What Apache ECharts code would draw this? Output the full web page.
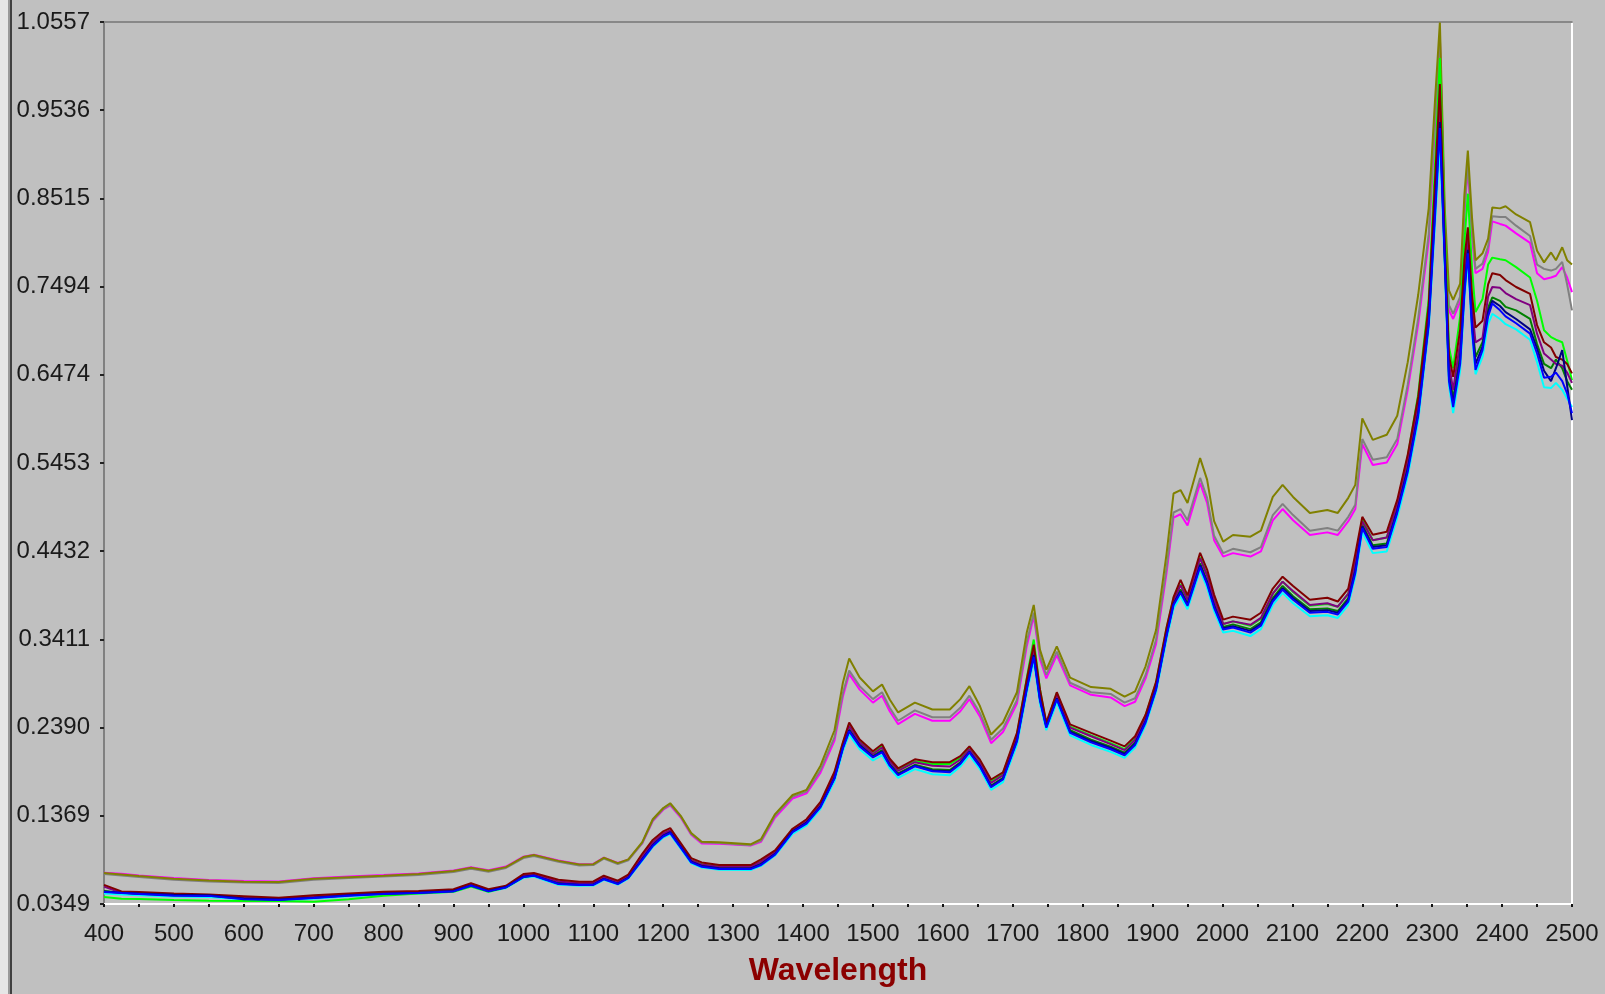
<!DOCTYPE html>
<html>
<head>
<meta charset="utf-8">
<script src="https://cdn.jsdelivr.net/npm/echarts@6/dist/echarts.min.js"></script>
<style>
  html, body { margin: 0; padding: 0; background: #c0c0c0; }
  #chart { width: 1605px; height: 994px; }
</style>
</head>
<body>
<div id="chart"></div>
<script>
// Wavelength grid (nm) shared by all spectra
const wavelengths = [
  400,425,450,500,550,600,650,700,750,800,
  850,900,925,950,975,1000,1015,1050,1080,1100,
  1115,1135,1150,1170,1185,1200,1210,1225,1240,1255,
  1280,1325,1340,1360,1385,1405,1425,1445,1457,1466,
  1481,1500,1513,1524,1536,1560,1585,1610,1625,1638,
  1653,1669,1686,1706,1720,1730,1739,1748,1763,1782,
  1812,1840,1860,1875,1890,1905,1920,1930,1940,1950,
  1968,1978,1988,2001,2015,2040,2055,2072,2086,2101,
  2125,2150,2165,2180,2190,2200,2215,2235,2250,2265,
  2280,2295,2304,2311,2318,2324,2330,2340,2346,2351,
  2357,2362,2372,2380,2386,2397,2405,2420,2440,2450,
  2460,2470,2477,2486,2493,2500
];

const oliveSpec = [
  0.0707,0.0690,0.0672,0.0640,0.0620,0.0607,0.0603,0.0640,0.0660,0.0676,
  0.0695,0.0730,0.0768,0.0733,0.0776,0.0892,0.0915,0.0848,0.0805,0.0810,
  0.0884,0.0822,0.0865,0.1065,0.1330,0.1460,0.1515,0.1370,0.1170,0.1070,
  0.1065,0.1040,0.1100,0.1390,0.1610,0.1670,0.1950,0.2360,0.2910,0.3190,
  0.2970,0.2810,0.2890,0.2716,0.2566,0.2680,0.2600,0.2600,0.2720,0.2870,
  0.2640,0.2310,0.2450,0.2800,0.3490,0.3810,0.3290,0.3060,0.3330,0.2970,
  0.2860,0.2840,0.2750,0.2810,0.3100,0.3520,0.4400,0.5100,0.5140,0.4990,
  0.5510,0.5260,0.4780,0.4543,0.4620,0.4600,0.4670,0.5060,0.5200,0.5060,
  0.4875,0.4910,0.4875,0.5050,0.5200,0.5970,0.5720,0.5780,0.6000,0.6620,
  0.7400,0.8400,0.9645,1.0550,0.8400,0.7450,0.7340,0.7530,0.8550,0.9070,
  0.8290,0.7800,0.7880,0.8050,0.8410,0.8400,0.8425,0.8330,0.8240,0.7910,
  0.7775,0.7890,0.7800,0.7950,0.7800,0.7750
];

const magentaSpec = [
  0.0712,0.0698,0.0680,0.0650,0.0628,0.0615,0.0610,0.0648,0.0668,0.0684,
  0.0703,0.0737,0.0775,0.0740,0.0782,0.0896,0.0918,0.0852,0.0810,0.0813,
  0.0885,0.0825,0.0862,0.1050,0.1310,0.1440,0.1490,0.1350,0.1150,0.1050,
  0.1045,0.1025,0.1070,0.1350,0.1570,0.1630,0.1870,0.2240,0.2750,0.3010,
  0.2830,0.2680,0.2760,0.2580,0.2430,0.2550,0.2470,0.2470,0.2580,0.2720,
  0.2520,0.2210,0.2340,0.2670,0.3330,0.3680,0.3180,0.2960,0.3230,0.2880,
  0.2770,0.2740,0.2640,0.2690,0.2960,0.3360,0.4180,0.4820,0.4860,0.4730,
  0.5220,0.4990,0.4560,0.4370,0.4410,0.4370,0.4430,0.4790,0.4920,0.4790,
  0.4620,0.4650,0.4620,0.4780,0.4920,0.5670,0.5430,0.5460,0.5670,0.6300,
  0.7060,0.8020,0.9350,1.0370,0.8150,0.7220,0.7120,0.7320,0.8320,0.8870,
  0.8080,0.7650,0.7700,0.7900,0.8250,0.8220,0.8200,0.8110,0.8000,0.7650,
  0.7580,0.7600,0.7620,0.7720,0.7600,0.7430
];

const graySpec = [
  0.0697,0.0680,0.0662,0.0630,0.0610,0.0597,0.0593,0.0630,0.0650,0.0666,
  0.0685,0.0720,0.0758,0.0723,0.0766,0.0880,0.0905,0.0838,0.0795,0.0800,
  0.0874,0.0812,0.0855,0.1055,0.1315,0.1448,0.1500,0.1360,0.1160,0.1060,
  0.1055,0.1030,0.1080,0.1370,0.1590,0.1650,0.1900,0.2280,0.2790,0.3050,
  0.2870,0.2720,0.2800,0.2620,0.2470,0.2590,0.2510,0.2510,0.2620,0.2760,
  0.2560,0.2250,0.2380,0.2710,0.3380,0.3720,0.3220,0.3000,0.3270,0.2910,
  0.2800,0.2780,0.2680,0.2730,0.3000,0.3410,0.4240,0.4880,0.4920,0.4790,
  0.5280,0.5050,0.4610,0.4410,0.4460,0.4420,0.4480,0.4850,0.4980,0.4850,
  0.4670,0.4700,0.4670,0.4830,0.4970,0.5730,0.5490,0.5520,0.5730,0.6360,
  0.7130,0.8100,0.9450,1.0400,0.8220,0.7280,0.7180,0.7380,0.8380,0.8920,
  0.8140,0.7700,0.7760,0.7960,0.8310,0.8300,0.8300,0.8200,0.8080,0.7750,
  0.7700,0.7680,0.7700,0.7780,0.7520,0.7220
];

const darkRedSpec = [
  0.0570,0.0495,0.0488,0.0470,0.0460,0.0440,0.0420,0.0450,0.0470,0.0490,
  0.0500,0.0520,0.0591,0.0520,0.0560,0.0695,0.0707,0.0630,0.0607,0.0610,
  0.0676,0.0620,0.0690,0.0930,0.1090,0.1190,0.1227,0.1055,0.0880,0.0830,
  0.0800,0.0800,0.0865,0.0970,0.1220,0.1330,0.1530,0.1880,0.2220,0.2450,
  0.2254,0.2116,0.2197,0.2030,0.1920,0.2023,0.1990,0.1990,0.2060,0.2173,
  0.2020,0.1790,0.1873,0.2330,0.2950,0.3350,0.2830,0.2450,0.2800,0.2428,
  0.2330,0.2240,0.2173,0.2290,0.2540,0.2920,0.3550,0.3900,0.4100,0.3920,
  0.4414,0.4220,0.3930,0.3640,0.3675,0.3640,0.3720,0.4000,0.4137,0.4030,
  0.3870,0.3894,0.3850,0.4000,0.4400,0.4830,0.4622,0.4657,0.5026,0.5550,
  0.6220,0.7280,0.8700,0.9840,0.8000,0.6700,0.6450,0.7000,0.7800,0.8180,
  0.7400,0.7020,0.7100,0.7520,0.7650,0.7630,0.7570,0.7490,0.7410,0.7050,
  0.6850,0.6790,0.6680,0.6650,0.6600,0.6490
];

const purpleSpec = [
  0.0550,0.0480,0.0470,0.0455,0.0450,0.0420,0.0410,0.0435,0.0460,0.0480,
  0.0490,0.0510,0.0580,0.0510,0.0550,0.0680,0.0695,0.0610,0.0590,0.0595,
  0.0660,0.0605,0.0675,0.0900,0.1060,0.1165,0.1200,0.1030,0.0855,0.0805,
  0.0780,0.0780,0.0840,0.0950,0.1200,0.1310,0.1500,0.1840,0.2190,0.2410,
  0.2220,0.2085,0.2160,0.2000,0.1890,0.1990,0.1950,0.1940,0.2020,0.2140,
  0.1980,0.1750,0.1840,0.2290,0.2900,0.3300,0.2780,0.2430,0.2770,0.2390,
  0.2290,0.2200,0.2130,0.2250,0.2500,0.2880,0.3510,0.3860,0.4040,0.3870,
  0.4350,0.4150,0.3870,0.3590,0.3620,0.3580,0.3660,0.3940,0.4080,0.3970,
  0.3810,0.3830,0.3790,0.3940,0.4320,0.4780,0.4560,0.4590,0.4970,0.5490,
  0.6140,0.7200,0.8600,0.9640,0.7900,0.6600,0.6300,0.6850,0.7650,0.8050,
  0.7250,0.6850,0.6900,0.7380,0.7490,0.7480,0.7420,0.7350,0.7280,0.6950,
  0.6720,0.6650,0.6600,0.6580,0.6500,0.6380
];

const limeSpec = [
  0.0430,0.0410,0.0407,0.0395,0.0387,0.0385,0.0383,0.0376,0.0405,0.0445,
  0.0470,0.0490,0.0550,0.0490,0.0540,0.0660,0.0680,0.0590,0.0580,0.0580,
  0.0650,0.0590,0.0660,0.0890,0.1060,0.1160,0.1200,0.1030,0.0860,0.0810,
  0.0785,0.0780,0.0840,0.0950,0.1210,0.1310,0.1510,0.1860,0.2210,0.2430,
  0.2230,0.2090,0.2180,0.2010,0.1900,0.2000,0.1970,0.1970,0.2040,0.2160,
  0.2000,0.1770,0.1860,0.2310,0.2960,0.3410,0.2830,0.2430,0.2790,0.2400,
  0.2300,0.2210,0.2140,0.2270,0.2530,0.2910,0.3540,0.3890,0.4050,0.3880,
  0.4360,0.4160,0.3870,0.3590,0.3620,0.3570,0.3650,0.3940,0.4080,0.3960,
  0.3800,0.3820,0.3790,0.3940,0.4350,0.4800,0.4560,0.4590,0.4980,0.5530,
  0.6250,0.7350,0.8900,1.0140,0.8200,0.6800,0.6550,0.7150,0.8000,0.8570,
  0.7700,0.7200,0.7350,0.7750,0.7830,0.7810,0.7800,0.7720,0.7600,0.7330,
  0.6990,0.6910,0.6880,0.6850,0.6640,0.6410
];

const darkGreenSpec = [
  0.0500,0.0480,0.0468,0.0450,0.0445,0.0410,0.0400,0.0425,0.0450,0.0470,
  0.0480,0.0500,0.0568,0.0500,0.0545,0.0668,0.0685,0.0595,0.0580,0.0580,
  0.0645,0.0590,0.0660,0.0880,0.1040,0.1145,0.1185,0.1015,0.0845,0.0795,
  0.0770,0.0768,0.0815,0.0935,0.1190,0.1295,0.1485,0.1815,0.2170,0.2375,
  0.2195,0.2065,0.2130,0.1970,0.1860,0.1960,0.1910,0.1900,0.1990,0.2120,
  0.1960,0.1720,0.1810,0.2260,0.2860,0.3260,0.2730,0.2410,0.2740,0.2360,
  0.2250,0.2170,0.2100,0.2220,0.2480,0.2860,0.3480,0.3840,0.3990,0.3830,
  0.4290,0.4090,0.3820,0.3555,0.3585,0.3530,0.3610,0.3890,0.4030,0.3910,
  0.3760,0.3770,0.3740,0.3890,0.4240,0.4740,0.4500,0.4520,0.4920,0.5420,
  0.6060,0.7120,0.8450,0.9500,0.7850,0.6500,0.6200,0.6720,0.7520,0.7970,
  0.7120,0.6680,0.6850,0.7250,0.7370,0.7330,0.7260,0.7220,0.7120,0.6830,
  0.6600,0.6550,0.6650,0.6550,0.6400,0.6300
];

const navySpec = [
  0.0495,0.0480,0.0470,0.0455,0.0450,0.0412,0.0400,0.0422,0.0450,0.0468,
  0.0480,0.0500,0.0565,0.0500,0.0545,0.0665,0.0680,0.0585,0.0572,0.0575,
  0.0640,0.0585,0.0655,0.0870,0.1030,0.1140,0.1180,0.1010,0.0840,0.0790,
  0.0762,0.0760,0.0810,0.0930,0.1190,0.1290,0.1480,0.1810,0.2160,0.2360,
  0.2185,0.2055,0.2115,0.1960,0.1850,0.1950,0.1895,0.1885,0.1980,0.2110,
  0.1950,0.1710,0.1800,0.2245,0.2845,0.3230,0.2715,0.2400,0.2730,0.2345,
  0.2235,0.2155,0.2085,0.2205,0.2465,0.2845,0.3465,0.3825,0.3970,0.3815,
  0.4270,0.4070,0.3800,0.3540,0.3565,0.3510,0.3590,0.3870,0.4005,0.3890,
  0.3740,0.3750,0.3720,0.3870,0.4210,0.4720,0.4480,0.4500,0.4900,0.5380,
  0.6030,0.7080,0.8380,0.9400,0.7820,0.6450,0.6150,0.6650,0.7450,0.7920,
  0.7060,0.6600,0.6800,0.7200,0.7330,0.7270,0.7200,0.7120,0.7000,0.6780,
  0.6520,0.6400,0.6550,0.6760,0.6350,0.5950
];

const blueSpec = [
  0.0488,0.0475,0.0465,0.0445,0.0443,0.0405,0.0395,0.0418,0.0445,0.0464,
  0.0475,0.0495,0.0560,0.0495,0.0540,0.0660,0.0676,0.0580,0.0568,0.0570,
  0.0635,0.0580,0.0650,0.0860,0.1020,0.1130,0.1170,0.1000,0.0830,0.0780,
  0.0755,0.0753,0.0800,0.0920,0.1180,0.1280,0.1470,0.1800,0.2150,0.2347,
  0.2173,0.2046,0.2104,0.1950,0.1840,0.1943,0.1885,0.1873,0.1970,0.2104,
  0.1940,0.1700,0.1790,0.2230,0.2830,0.3210,0.2700,0.2390,0.2716,0.2330,
  0.2220,0.2140,0.2070,0.2190,0.2450,0.2830,0.3450,0.3810,0.3950,0.3800,
  0.4250,0.4050,0.3780,0.3525,0.3550,0.3490,0.3570,0.3850,0.3987,0.3870,
  0.3720,0.3730,0.3700,0.3850,0.4180,0.4700,0.4460,0.4480,0.4876,0.5350,
  0.6000,0.7050,0.8300,0.9330,0.7800,0.6400,0.6100,0.6600,0.7400,0.7880,
  0.7000,0.6530,0.6760,0.7150,0.7300,0.7220,0.7150,0.7070,0.6950,0.6720,
  0.6440,0.6450,0.6500,0.6400,0.6260,0.6030
];

const cyanSpec = [
  0.0470,0.0460,0.0450,0.0435,0.0430,0.0400,0.0390,0.0410,0.0440,0.0458,
  0.0470,0.0490,0.0553,0.0490,0.0535,0.0652,0.0668,0.0572,0.0560,0.0563,
  0.0628,0.0573,0.0642,0.0850,0.1010,0.1118,0.1158,0.0988,0.0820,0.0770,
  0.0745,0.0743,0.0790,0.0910,0.1160,0.1260,0.1450,0.1770,0.2120,0.2310,
  0.2140,0.2010,0.2070,0.1920,0.1810,0.1910,0.1850,0.1840,0.1940,0.2070,
  0.1910,0.1670,0.1760,0.2190,0.2790,0.3160,0.2660,0.2360,0.2680,0.2300,
  0.2190,0.2110,0.2040,0.2160,0.2420,0.2800,0.3410,0.3770,0.3910,0.3760,
  0.4210,0.4010,0.3740,0.3490,0.3510,0.3450,0.3530,0.3810,0.3950,0.3830,
  0.3680,0.3690,0.3660,0.3810,0.4140,0.4650,0.4410,0.4430,0.4820,0.5300,
  0.5940,0.7000,0.8200,0.9150,0.7700,0.6350,0.6030,0.6520,0.7320,0.7800,
  0.6940,0.6480,0.6680,0.7060,0.7180,0.7120,0.7060,0.7000,0.6880,0.6620,
  0.6330,0.6320,0.6380,0.6300,0.6200,0.6100
];

// Y tick values as printed on the axis
const yTicks = [0.0349, 0.1369, 0.2390, 0.3411, 0.4432, 0.5453, 0.6474, 0.7494, 0.8515, 0.9536, 1.0557];
const yMin = 0.0349, yMax = 1.0557;
const xMin = 400, xMax = 2500, xStep = 100;

// Drawing order: first listed ends up underneath
const spectra = [
  { name: 'S1', values: magentaSpec,  color: '#ff00ff' },
  { name: 'S2', values: graySpec,     color: '#808080' },
  { name: 'S3', values: oliveSpec,    color: '#808000' },
  { name: 'S4', values: cyanSpec,     color: '#00ffff' },
  { name: 'S5', values: limeSpec,     color: '#00ff00' },
  { name: 'S6', values: darkGreenSpec,color: '#008000' },
  { name: 'S7', values: purpleSpec,   color: '#800080' },
  { name: 'S8', values: darkRedSpec,  color: '#800000' },
  { name: 'S9', values: navySpec,     color: '#000080' },
  { name: 'S10', values: blueSpec,    color: '#0000ff' }
];

const chart = echarts.init(document.getElementById('chart'), null, { renderer: 'canvas' });

const labelFont = { fontFamily: 'Liberation Sans, Arial, sans-serif', fontSize: 24, color: '#1a1a1a' };

chart.setOption({
  animation: false,
  backgroundColor: '#c0c0c0',
  graphic: [
    { type: 'rect', shape: { x: 0, y: 0, width: 8, height: 994 }, style: { fill: '#e6e6e6' }, silent: true },
    { type: 'rect', shape: { x: 8, y: 0, width: 2, height: 994 }, style: { fill: '#9a9a9a' }, silent: true },
    { type: 'rect', shape: { x: 10, y: 0, width: 2, height: 994 }, style: { fill: '#404040' }, silent: true }
  ],
  grid: { left: 104, right: 33, top: 22, bottom: 90, containLabel: false },
  xAxis: [
    {
      type: 'value', min: xMin, max: xMax, interval: xStep, position: 'bottom',
      axisLine: { show: true, onZero: false, lineStyle: { color: '#ffffff', width: 2 } },
      axisTick: { show: true, inside: false, length: 3, lineStyle: { color: '#111', width: 2 } },
      minorTick: { show: true, splitNumber: 2, length: 3, lineStyle: { color: '#111', width: 2 } },
      axisLabel: Object.assign({ margin: 18, formatter: v => String(v) }, labelFont),
      splitLine: { show: false },
      name: 'Wavelength', nameLocation: 'middle', nameGap: 51,
      nameTextStyle: { fontFamily: 'Liberation Sans, Arial, sans-serif', fontSize: 32, fontWeight: 'bold', color: '#8b0000' }
    },
    {
      type: 'value', min: xMin, max: xMax, position: 'top',
      axisLine: { show: true, onZero: false, lineStyle: { color: '#888888', width: 2 } },
      axisTick: { show: false }, axisLabel: { show: false }, splitLine: { show: false }
    }
  ],
  yAxis: [
    {
      type: 'value', min: yMin, max: yMax, position: 'left',
      axisLine: { show: true, onZero: false, lineStyle: { color: '#808080', width: 2 } },
      axisTick: { show: true, length: 4, customValues: yTicks, lineStyle: { color: '#222', width: 2 } },
      axisLabel: Object.assign({ margin: 14, customValues: yTicks, formatter: v => v.toFixed(4) }, labelFont),
      splitLine: { show: false }
    },
    {
      type: 'value', min: yMin, max: yMax, position: 'right',
      axisLine: { show: true, onZero: false, lineStyle: { color: '#ffffff', width: 2 } },
      axisTick: { show: false }, axisLabel: { show: false }, splitLine: { show: false }
    }
  ],
  series: spectra.map(s => ({
    name: s.name,
    type: 'line',
    xAxisIndex: 0,
    yAxisIndex: 0,
    showSymbol: false,
    symbol: 'none',
    smooth: false,
    lineStyle: { color: s.color, width: 2 },
    itemStyle: { color: s.color },
    data: wavelengths.map((w, i) => [w, s.values[i]])
  }))
});
</script>
</body>
</html>
